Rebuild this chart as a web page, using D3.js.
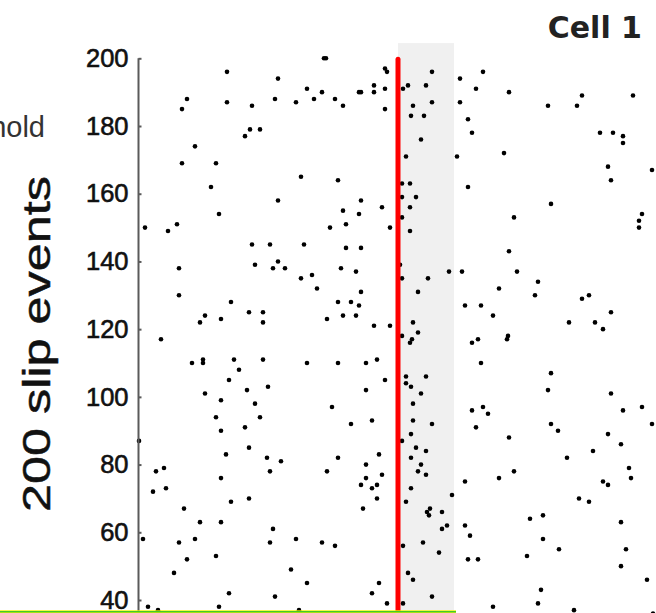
<!DOCTYPE html>
<html>
<head>
<meta charset="utf-8">
<script src="https://cdn.jsdelivr.net/npm/d3@7"></script>
<style>
  html, body { margin: 0; padding: 0; background: #ffffff; }
  svg { display: block; }
</style>
</head>
<body>
<div id="chart"></div>
<script>
// Raster of spike times (ms, aligned to slip onset at 0) across slip events (trials)
const spikeTimes = [
  -253,-171,-211,-216,-171,-146,-153,-148,-138,-203,-216,-182,-187,-179,-230,-221,
  -120,-123,-102,-91,-84,-76,-74,-72,-63,-55,-39,-37,-24,-24,-13,-13,-13,-11,
  -97,-60,-120,-55,-37,-39,-16,-52,-68,-8,
  -146,-128,-94,-52,-37,-219,-143,-120,-125,-113,-97,-86,-57,-42,-81,-37,-219,-167,
  -60,-47,-39,-193,-198,-177,-149,-135,-135,-71,-55,-42,-24,-8,-237,-206,-195,-195,
  -164,-135,-91,-60,-32,-21,-159,-169,-13,-193,-151,-130,-32,-177,-143,-66,-182,-138,
  -153,-177,-47,-26,
  -259,-255,-250,-240,-149,-172,-131,-117,-128,-242,-234,-245,-232,-177,-149,-167,
  -71,-60,-19,-32,-32,-16,-37,-26,-21,-21,-35,-214,-198,-177,-125,-219,-203,-128,
  -102,-76,-63,-211,-182,-224,-107,-91,-19,-26,-169,-123,-179,-99,-11,
  34,85,62,10,5,28,78,111,184,235,34,62,15,13,26,150,179,70,74,23,202,215,225,225,
  8,59,106,210,213,254,4,12,70,4,18,
  12,4,12,2,4,30,51,64,20,15,20,4,12,14,153,116,244,241,241,111,119,140,101,137,67,
  83,95,184,191,213,171,197,205,80,74,110,109,
  83,8,28,8,13,23,15,15,34,13,4,18,28,13,23,20,28,74,85,90,78,111,153,150,153,160,
  169,195,213,225,244,254,210,223,231,233,116,101,
  13,67,8,54,29,32,31,44,49,44,67,72,181,191,205,210,132,145,145,223,228,223,161,129,
  5,25,41,70,80,10,15,5,34,95,143,140,176,249,255
];
const spikeTrials = [
  150,196,188,185,187,186,177,179,179,174,169,169,162,154,149,151,
  194,188,187,191,188,190,200,200,188,186,190,190,192,190,191,185,197,196,
  165,164,158,155,158,154,156,151,150,150,
  145,145,145,144,144,138,139,140,138,138,135,136,138,137,132,131,130,128,
  128,128,127,124,122,123,125,125,122,123,124,124,121,121,117,110,111,110,
  111,111,110,110,110,111,108,105,105,101,102,103,102,99,98,97,94,94,
  91,90,92,93,
  87,58,38,37,85,83,82,81,78,78,79,72,73,76,70,69,
  78,82,83,80,76,77,74,73,74,70,67,67,63,63,61,57,58,57,
  58,57,56,52,53,48,49,45,45,42,42,41,38,37,39,
  196,196,194,192,191,192,191,190,189,189,187,187,186,183,183,186,186,182,178,176,178,178,177,175,
  171,171,172,168,164,167,163,163,162,159,159,
  156,153,149,139,135,135,137,137,131,122,119,118,116,117,157,153,154,152,150,143,137,134,132,130,127,
  127,124,129,130,125,122,122,120,117,116,118,117,
  110,106,106,104,103,101,98,93,92,89,87,85,84,82,80,78,77,96,97,95,91,88,107,102,92,90,
  82,84,101,96,97,92,89,86,79,76,78,76,
  73,75,69,71,66,67,65,66,62,61,62,59,70,69,75,74,64,65,58,63,55,50,55,53,
  56,57,54,52,52,48,46,39,41,38,43,39,37,46,36
];

const yTicks = [40, 60, 80, 100, 120, 140, 160, 180, 200];
const slipOnset = 0;          // ms
const windowEnd = 56;         // ms, end of shaded response window
const windowTop = 204.5;      // trial units
const titleText = "Cell 1";
const yTitle = "200 slip events";
const sideLabel = "threshold";

const W = 656, H = 613;
const svg = d3.select("#chart").append("svg")
  .attr("width", W).attr("height", H)
  .attr("viewBox", `0 0 ${W} ${H}`);

const x = d3.scaleLinear().domain([-260, 260]).range([138, 658]);
const y = d3.scaleLinear().domain([40, 200]).range([600, 58.3]);

// shaded response window
svg.append("rect")
  .attr("x", x(slipOnset))
  .attr("y", y(windowTop))
  .attr("width", x(windowEnd) - x(slipOnset))
  .attr("height", H - y(windowTop) + 5)
  .attr("fill", "#f0f0f0");

// spikes
const spikes = spikeTimes.map((t, i) => ({ t, trial: spikeTrials[i] }));
svg.append("g").selectAll("circle")
  .data(spikes)
  .join("circle")
  .attr("cx", d => x(d.t))
  .attr("cy", d => y(d.trial))
  .attr("r", 2.3)
  .attr("fill", "#000");

// slip onset marker
svg.append("line")
  .attr("x1", x(slipOnset)).attr("x2", x(slipOnset))
  .attr("y1", y(200) + 1).attr("y2", H + 10)
  .attr("stroke", "#ff0000")
  .attr("stroke-width", 5)
  .attr("stroke-linecap", "round");

// y axis
const axisColor = "#5a5a5a";
svg.append("line")
  .attr("x1", x(-260) + 0.5).attr("x2", x(-260) + 0.5)
  .attr("y1", y(200)).attr("y2", H + 5)
  .attr("stroke", axisColor).attr("stroke-width", 2);

const yAxis = d3.axisLeft(y)
  .tickValues(yTicks)
  .tickSize(-3)
  .tickSizeOuter(0)
  .tickPadding(10);

const gy = svg.append("g")
  .attr("transform", `translate(${x(-260) + 0.5},0)`)
  .call(yAxis);
gy.select(".domain").remove();
gy.selectAll(".tick line").attr("stroke", axisColor).attr("stroke-width", 2);
gy.selectAll(".tick text")
  .attr("fill", "#111")
  .attr("stroke", "#111")
  .attr("stroke-width", 0.6)
  .attr("font-family", "'Liberation Sans', Arial, sans-serif")
  .attr("font-size", 25.5);

// axis title
svg.append("text")
  .attr("transform", `translate(50,344) rotate(-90)`)
  .attr("text-anchor", "middle")
  .attr("font-family", "'Liberation Sans', Arial, sans-serif")
  .attr("font-size", 39)
  .attr("fill", "#111")
  .attr("stroke", "#111")
  .attr("stroke-width", 0.5)
  .attr("textLength", 336)
  .attr("lengthAdjust", "spacingAndGlyphs")
  .text(yTitle);

// side label (runs off the left edge)
svg.append("text")
  .attr("x", 45).attr("y", 136.5)
  .attr("text-anchor", "end")
  .attr("font-family", "'Liberation Sans', Arial, sans-serif")
  .attr("font-size", 29)
  .attr("fill", "#333")
  .text(sideLabel);

// panel title
svg.append("text")
  .attr("x", 642).attr("y", 38)
  .attr("text-anchor", "end")
  .attr("font-family", "'DejaVu Sans', Verdana, sans-serif")
  .attr("font-weight", "bold")
  .attr("font-size", 30)
  .attr("fill", "#222")
  .text(titleText);

// highlight bar along the bottom edge
svg.append("rect")
  .attr("x", 0).attr("y", 610.3)
  .attr("width", x(windowEnd) + 2).attr("height", 2.8)
  .attr("fill", "#f2f200");
svg.append("rect")
  .attr("x", 0).attr("y", 611.1)
  .attr("width", x(windowEnd) + 2).attr("height", 1.3)
  .attr("fill", "#2ec52e");
</script>
</body>
</html>
